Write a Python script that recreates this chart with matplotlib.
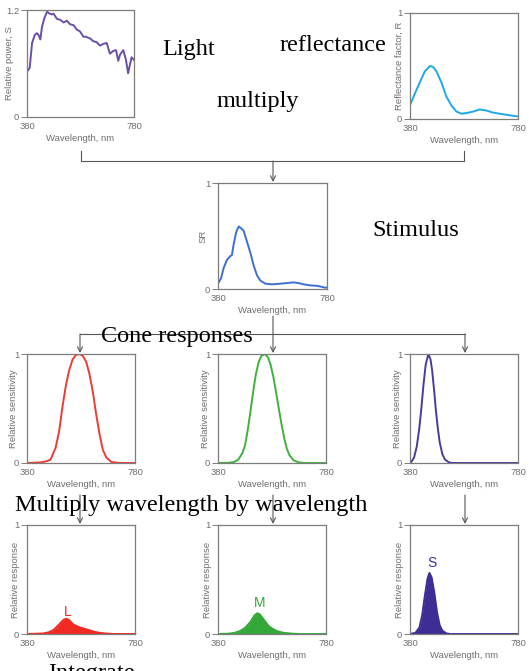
import matplotlib
matplotlib.use("Agg")
import matplotlib.pyplot as plt

W, H = 529, 671

# light source spectrum (relative power, S)
lightWl = [380, 390, 399, 409, 417, 423, 430, 436, 445, 455, 464, 473, 479, 492, 504, 517,
           529, 541, 554, 566, 578, 591, 600, 616, 628, 640, 653, 665, 678, 690, 702, 713,
           721, 728, 740, 750, 758, 765, 771, 780]
lightPower = [0.51, 0.55, 0.83, 0.92, 0.94, 0.92, 0.87, 1.01, 1.11, 1.18, 1.16, 1.15, 1.16, 1.10,
              1.09, 1.06, 1.08, 1.04, 1.03, 0.98, 0.96, 0.90, 0.90, 0.88, 0.85, 0.84, 0.80, 0.82,
              0.83, 0.71, 0.74, 0.75, 0.63, 0.70, 0.75, 0.64, 0.49, 0.59, 0.67, 0.64]

# surface reflectance factor, R
reflWl = [380, 398, 417, 435, 454, 466, 478, 497, 515, 534, 552, 571, 589, 614, 638, 663,
          688, 712, 737, 762, 780]
reflFactor = [0.13, 0.24, 0.35, 0.45, 0.50, 0.49, 0.45, 0.34, 0.21, 0.125, 0.07, 0.05, 0.056,
              0.07, 0.09, 0.08, 0.06, 0.05, 0.04, 0.03, 0.025]

# stimulus SR
stimWl = [382, 391, 401, 413, 425, 431, 437, 447, 456, 466, 474, 486, 499, 511, 523, 535,
          554, 578, 609, 633, 658, 676, 694, 719, 743, 762, 774, 780]
stimSR = [0.06, 0.10, 0.20, 0.275, 0.31, 0.32, 0.415, 0.54, 0.59, 0.57, 0.55, 0.45, 0.34, 0.22,
          0.13, 0.08, 0.05, 0.044, 0.05, 0.056, 0.0625, 0.056, 0.044, 0.034, 0.03, 0.02, 0.012, 0.015]

# cone sensitivities
lConeWl = [380, 430, 450, 467, 486, 499, 511, 524, 536, 549, 561, 574, 586, 599, 611, 624,
           636, 649, 661, 674, 692, 720, 780]
lConeSens = [0.0, 0.005, 0.015, 0.03, 0.14, 0.29, 0.51, 0.71, 0.85, 0.95, 0.99, 1.0, 0.985,
             0.93, 0.82, 0.65, 0.45, 0.26, 0.12, 0.05, 0.01, 0.0, 0.0]
mConeWl = [380, 420, 440, 455, 470, 480, 490, 500, 510, 520, 530, 540, 553, 565, 575, 585,
           595, 605, 615, 625, 635, 645, 660, 680, 700, 780]
mConeSens = [0.0, 0.002, 0.01, 0.03, 0.09, 0.16, 0.30, 0.47, 0.65, 0.81, 0.92, 0.98, 1.0, 0.97,
             0.90, 0.79, 0.65, 0.50, 0.36, 0.23, 0.13, 0.07, 0.025, 0.005, 0.0, 0.0]
sConeWl = [380, 385, 395, 405, 415, 422, 430, 438, 448, 456, 462, 470, 476, 483, 490, 500,
           510, 525, 540, 780]
sConeSens = [0.0, 0.01, 0.05, 0.15, 0.33, 0.50, 0.72, 0.90, 1.0, 0.95, 0.85, 0.65, 0.48, 0.32,
             0.19, 0.08, 0.03, 0.005, 0.0, 0.0]

# cone responses (stimulus x sensitivity)
lRespWl = [380, 440, 460, 480, 500, 515, 525, 535, 550, 570, 590, 610, 630, 650, 680, 700, 780]
lResp = [0.0, 0.005, 0.015, 0.04, 0.09, 0.13, 0.14, 0.13, 0.09, 0.065, 0.05, 0.035, 0.02,
         0.01, 0.003, 0.0, 0.0]
mRespWl = [380, 420, 440, 460, 480, 500, 515, 525, 535, 550, 565, 580, 600, 620, 650, 680, 780]
mResp = [0.0, 0.003, 0.01, 0.025, 0.055, 0.11, 0.17, 0.19, 0.18, 0.13, 0.08, 0.05, 0.025,
         0.012, 0.004, 0.0, 0.0]
sRespWl = [380, 400, 415, 425, 435, 445, 452, 460, 470, 480, 490, 500, 515, 530, 780]
sResp = [0.0, 0.01, 0.06, 0.17, 0.35, 0.51, 0.56, 0.52, 0.38, 0.20, 0.08, 0.03, 0.005, 0.0, 0.0]

GREY = '#6e6e6e'
SPINE = '#7c7c7c'
LINE = '#555555'


def addPanel(fig, box, wl, vals, color, ylabel, labelx, ymax=1.0, ylabels=('0', '1'), fill=False):
    left, top, right, bottom = box
    ax = fig.add_axes([left / W, 1 - bottom / H, (right - left) / W, (bottom - top) / H])
    if fill:
        ax.fill_between(wl, vals, color=color, lw=0)
    ax.plot(wl, vals, color=color, lw=1.4)
    ax.set_xlim(380, 780)
    ax.set_ylim(0, ymax)
    ax.set_xticks([380, 780])
    ax.set_yticks([0, ymax])
    ax.set_yticklabels(ylabels)
    ax.tick_params(axis='x', length=0, pad=3.5, labelsize=6.8, labelcolor=GREY)
    ax.tick_params(axis='y', length=4, width=0.7, color=SPINE, pad=1.5, labelsize=6.8,
                   labelcolor=GREY)
    for s in ax.spines.values():
        s.set_color(SPINE)
        s.set_linewidth(0.9)
    ax.set_xlabel('Wavelength, nm', fontsize=6.8, color=GREY, labelpad=2)
    ax.set_ylabel(ylabel, fontsize=6.8, color=GREY, va='center')
    # ylabel centre given in pixels left of the spine
    ax.yaxis.set_label_coords(-labelx / (right - left), 0.5)
    return ax


def arrow(ov, x, y0, y1):
    ov.annotate('', xy=(x, y1), xytext=(x, y0),
                arrowprops=dict(arrowstyle='->', color=LINE, lw=0.8, shrinkA=0, shrinkB=0,
                                mutation_scale=9))


def plotDiagram():
    plt.rcParams['font.family'] = ['Liberation Sans', 'DejaVu Sans']
    fig = plt.figure(figsize=(W / 100, H / 100), dpi=100)

    addPanel(fig, (27, 10, 134, 117), lightWl, lightPower, '#6a4fab', 'Relative power, S', 17,
             ymax=1.2, ylabels=('0', '1.2'))
    addPanel(fig, (410, 13, 518, 119), reflWl, reflFactor, '#1ea8ea', 'Reflectance factor, R', 11)
    addPanel(fig, (218, 183, 327, 289), stimWl, stimSR, '#3b70d2', 'SR', 15)

    cols = [(27, 135), (218, 326), (410, 518)]
    cones = [(lConeWl, lConeSens, '#ef3b33'), (mConeWl, mConeSens, '#3fb23c'),
             (sConeWl, sConeSens, '#4b3b9e')]
    for (l, r), (wl, v, c) in zip(cols, cones):
        addPanel(fig, (l, 354, r, 463), wl, v, c, 'Relative sensitivity', 13)

    resps = [(lRespWl, lResp, '#f02a22', 'L', 532, 0.20),
             (mRespWl, mResp, '#33a838', 'M', 534, 0.28),
             (sRespWl, sResp, '#3f2d96', 'S', 463, 0.65)]
    for (l, r), (wl, v, c, name, tx, ty) in zip(cols, resps):
        ax = addPanel(fig, (l, 525, r, 634), wl, v, c, 'Relative response', 11, fill=True)
        ax.text(tx, ty, name, color=c, fontsize=10, ha='center', va='center')

    # connectors and captions drawn in pixel coordinates
    ov = fig.add_axes([0, 0, 1, 1])
    ov.set_xlim(0, W)
    ov.set_ylim(H, 0)
    ov.axis('off')
    ov.plot([81, 81, 464, 464], [151, 161, 161, 151], color=LINE, lw=0.8)
    arrow(ov, 273, 161, 182)
    ov.plot([80, 465], [334, 334], color=LINE, lw=0.8)
    arrow(ov, 80, 334, 353)
    arrow(ov, 273, 316, 353)
    arrow(ov, 465, 334, 353)
    for x in (80, 273, 465):
        arrow(ov, x, 495, 524)

    serif = dict(family='Liberation Serif', fontsize=17.5, color='black', ha='center',
                 va='baseline')
    ov.text(189, 55, 'Light', **serif)
    ov.text(333, 51, 'reflectance', **serif)
    ov.text(258, 107, 'multiply', **serif)
    ov.text(416, 236, 'Stimulus', **serif)
    ov.text(177, 342, 'Cone responses', **serif)
    ov.text(191, 511, 'Multiply wavelength by wavelength', **serif)
    ov.text(91, 679, 'Integrate', **serif)

    plt.savefig('out.png', dpi=100)


if __name__ == '__main__':
    plotDiagram()
